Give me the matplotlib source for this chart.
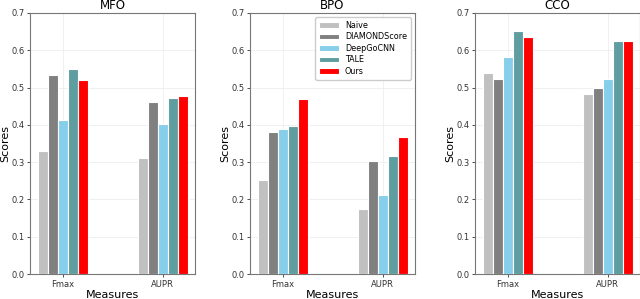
import numpy as np
import matplotlib
matplotlib.use("Agg")
import matplotlib.pyplot as plt

# scores
measures = ["Fmax", "AUPR"]
methods = ["Naive", "DIAMONDScore", "DeepGoCNN", "TALE", "Ours"]
colors = ["#c0c0c0", "#808080", "#87ceeb", "#5f9ea0", "#ff0000"]

mfo = [[0.330, 0.311], [0.533, 0.462], [0.412, 0.402], [0.549, 0.472], [0.519, 0.477]]
bpo = [[0.252, 0.174], [0.382, 0.304], [0.388, 0.213], [0.398, 0.317], [0.470, 0.368]]
cco = [[0.540, 0.484], [0.522, 0.499], [0.581, 0.522], [0.653, 0.626], [0.636, 0.626]]

ontologies = ["MFO", "BPO", "CCO"]
all_scores = [mfo, bpo, cco]

fig = plt.figure(figsize=(6.4, 2.99), dpi=100)
lefts = [30 / 640, 250 / 640, 475 / 640]
width = 165 / 640
bottom = 1 - 274 / 299
height = (274 - 13) / 299

x = np.arange(len(measures))
bw = 0.1
for k, (name, scores) in enumerate(zip(ontologies, all_scores)):
    ax = fig.add_axes([lefts[k], bottom, width, height])
    for i, m in enumerate(methods):
        ax.bar(x + (i - 2) * bw, scores[i], bw, color=colors[i],
               edgecolor="white", linewidth=0.8, label=m, zorder=3)
    ax.set_ylim(0, 0.7)
    ax.set_xticks(x)
    ax.set_xticklabels(measures)
    ax.tick_params(labelsize=6, length=2.5, width=0.6, pad=1.5, colors="#333333")
    ax.set_yticks(np.arange(0, 0.71, 0.1))
    ax.grid(True, color="#eeeeee", linewidth=0.6, zorder=0)
    for s in ax.spines.values():
        s.set_color("#777777")
        s.set_linewidth(0.8)
    ax.set_title(name, fontsize=8.5, pad=3)
    ax.set_ylabel("Scores", fontsize=8, labelpad=0.5)
    ax.set_xlabel("Measures", fontsize=8, labelpad=1)
    if name == "BPO":
        ax.legend(loc="upper right", fontsize=5.8, handlelength=2.4,
                  borderpad=0.5, labelspacing=0.3, framealpha=1,
                  edgecolor="#cccccc", fancybox=True)

fig.savefig("out.png", dpi=100)
